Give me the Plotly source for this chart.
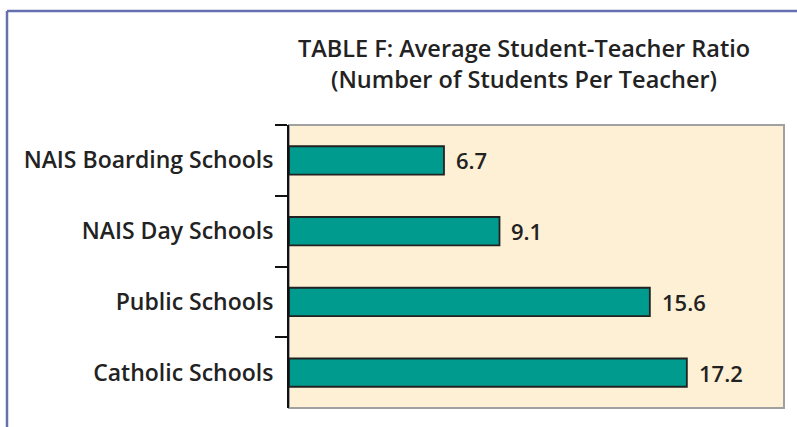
import plotly.graph_objects as go

categories = ["NAIS Boarding Schools", "NAIS Day Schools", "Public Schools", "Catholic Schools"]
ratios = [6.7, 9.1, 15.6, 17.2]
value_labels = ["6.7", "9.1", "15.6", "17.2"]

title_text = "TABLE F: Average Student-Teacher Ratio<br>(Number of Students Per Teacher)"

FONT = "Open Sans"
L, R, T, B = 289, 13, 125, 19
W, H = 797, 427
pw, ph = W - L - R, H - T - B

def px_x(x):
    return (x - L) / pw

def px_y(y):
    return (H - B - y) / ph

fig = go.Figure(go.Bar(
    x=ratios, y=categories, orientation="h",
    marker=dict(color="#009B8F", line=dict(color="#222222", width=1.8)),
    width=0.4,
))

for v, c, t in zip(ratios, categories, value_labels):
    fig.add_annotation(x=v, y=c, text=t, showarrow=False, xanchor="left", xshift=10,
                       font=dict(family=FONT, size=22, color="#222222", weight=600))

fig.update_layout(
    width=W, height=H,
    margin=dict(l=L, r=R, t=T, b=B),
    paper_bgcolor="white", plot_bgcolor="#FEF0D4",
    showlegend=False,
    title=dict(text=title_text, xref="container", x=524 / W, xanchor="center",
               y=1 - 57 / H, yanchor="top",
               font=dict(family=FONT, size=23.5, color="#222222", weight=600)),
    xaxis=dict(range=[0, 21.4], visible=False, fixedrange=True),
    yaxis=dict(autorange="reversed", type="category", tickson="boundaries",
               ticks="outside", ticklen=12, tickwidth=1.8, tickcolor="#111111",
               showline=True, linecolor="#111111", linewidth=2,
               tickfont=dict(family=FONT, size=23, color="#222222", weight=600),
               ticklabelstandoff=9, showgrid=False, fixedrange=True),
    shapes=[
        dict(type="rect", xref="paper", yref="paper", x0=0, x1=1, y0=0, y1=1,
             line=dict(color="#A0A0A0", width=2), layer="below"),
        dict(type="line", xref="paper", yref="paper", x0=px_x(7), x1=px_x(800),
             y0=px_y(11), y1=px_y(11), line=dict(color="#6670B0", width=2.5)),
        dict(type="line", xref="paper", yref="paper", x0=px_x(7), x1=px_x(7),
             y0=px_y(11), y1=px_y(430), line=dict(color="#6670B0", width=2.5)),
    ],
)

fig.write_html("out.html", config={"displayModeBar": False},
               post_script="document.body.style.margin='0px';")
